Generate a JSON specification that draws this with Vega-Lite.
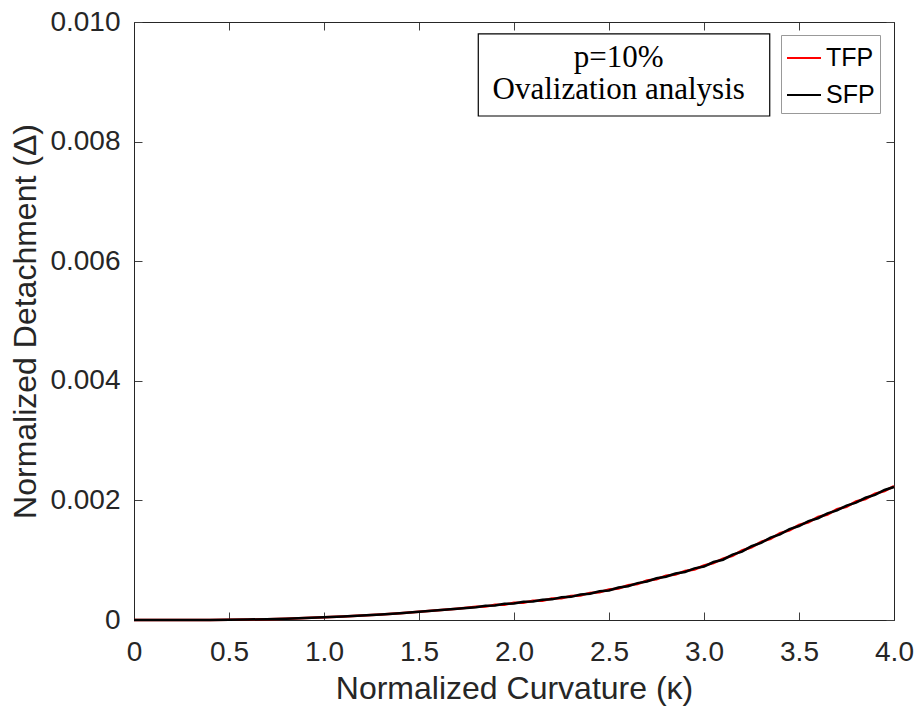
{
  "$schema": "https://vega.github.io/schema/vega-lite/v6.json",
  "width": 760,
  "height": 598,
  "autosize": "none",
  "padding": {"left": 134, "top": 22, "right": 24, "bottom": 90},
  "background": "white",
  "config": {
    "view": {"stroke": null},
    "axis": {
      "domainColor": "#262626",
      "domainWidth": 1,
      "tickColor": "#404040",
      "tickSize": -8,
      "tickWidth": 1,
      "grid": false,
      "labelFont": "Liberation Sans",
      "labelFontSize": 28,
      "labelColor": "#262626",
      "labelFlush": false,
      "labelOverlap": false,
      "titleFont": "Liberation Sans",
      "titleFontSize": 32,
      "titleFontWeight": "normal",
      "titleColor": "#262626"
    }
  },
  "data": {
    "values": [
      {"x": 0.0, "tfp": 0, "sfp": 0},
      {"x": 0.1, "tfp": 0, "sfp": 0},
      {"x": 0.2, "tfp": 0, "sfp": 0},
      {"x": 0.3, "tfp": 0.000001, "sfp": 0.000001},
      {"x": 0.4, "tfp": 0.000002, "sfp": 0.000002},
      {"x": 0.5, "tfp": 0.000004, "sfp": 0.000004},
      {"x": 0.6, "tfp": 0.000008, "sfp": 0.000008},
      {"x": 0.7, "tfp": 0.000014, "sfp": 0.000014},
      {"x": 0.8, "tfp": 0.000022, "sfp": 0.000022},
      {"x": 0.9, "tfp": 0.000033, "sfp": 0.000033},
      {"x": 1.0, "tfp": 0.000046, "sfp": 0.000046},
      {"x": 1.1, "tfp": 0.00006, "sfp": 0.00006},
      {"x": 1.2, "tfp": 0.000076, "sfp": 0.000076},
      {"x": 1.3, "tfp": 0.000094, "sfp": 0.000094},
      {"x": 1.4, "tfp": 0.000114, "sfp": 0.000114},
      {"x": 1.5, "tfp": 0.000138, "sfp": 0.000138},
      {"x": 1.6, "tfp": 0.000164, "sfp": 0.000164},
      {"x": 1.7, "tfp": 0.00019, "sfp": 0.00019},
      {"x": 1.80, "tfp": 0.00022, "sfp": 0.000212},
      {"x": 1.85, "tfp": 0.000224, "sfp": 0.000238},
      {"x": 1.90, "tfp": 0.000255, "sfp": 0.000241},
      {"x": 1.95, "tfp": 0.000256, "sfp": 0.00027},
      {"x": 2.00, "tfp": 0.000289, "sfp": 0.000275},
      {"x": 2.05, "tfp": 0.00029, "sfp": 0.000305},
      {"x": 2.10, "tfp": 0.000324, "sfp": 0.000309},
      {"x": 2.15, "tfp": 0.000324, "sfp": 0.00034},
      {"x": 2.20, "tfp": 0.00036, "sfp": 0.000345},
      {"x": 2.25, "tfp": 0.000364, "sfp": 0.000379},
      {"x": 2.30, "tfp": 0.000402, "sfp": 0.000387},
      {"x": 2.35, "tfp": 0.00041, "sfp": 0.000425},
      {"x": 2.40, "tfp": 0.000453, "sfp": 0.000438},
      {"x": 2.45, "tfp": 0.000463, "sfp": 0.000479},
      {"x": 2.50, "tfp": 0.00051, "sfp": 0.000494},
      {"x": 2.55, "tfp": 0.000527, "sfp": 0.000542},
      {"x": 2.60, "tfp": 0.00058, "sfp": 0.000564},
      {"x": 2.65, "tfp": 0.000601, "sfp": 0.000617},
      {"x": 2.70, "tfp": 0.000661, "sfp": 0.000643},
      {"x": 2.75, "tfp": 0.000681, "sfp": 0.000698},
      {"x": 2.80, "tfp": 0.000741, "sfp": 0.000724},
      {"x": 2.85, "tfp": 0.00076, "sfp": 0.000778},
      {"x": 2.90, "tfp": 0.000821, "sfp": 0.000803},
      {"x": 2.95, "tfp": 0.000845, "sfp": 0.000863},
      {"x": 3.00, "tfp": 0.000911, "sfp": 0.000893},
      {"x": 3.05, "tfp": 0.000952, "sfp": 0.000969},
      {"x": 3.10, "tfp": 0.001026, "sfp": 0.001008},
      {"x": 3.15, "tfp": 0.001074, "sfp": 0.001093},
      {"x": 3.20, "tfp": 0.001162, "sfp": 0.001143},
      {"x": 3.25, "tfp": 0.001216, "sfp": 0.001234},
      {"x": 3.30, "tfp": 0.001307, "sfp": 0.001289},
      {"x": 3.35, "tfp": 0.001359, "sfp": 0.001378},
      {"x": 3.40, "tfp": 0.001452, "sfp": 0.001432},
      {"x": 3.45, "tfp": 0.001499, "sfp": 0.001519},
      {"x": 3.50, "tfp": 0.001592, "sfp": 0.001572},
      {"x": 3.55, "tfp": 0.001634, "sfp": 0.001654},
      {"x": 3.60, "tfp": 0.001722, "sfp": 0.001702},
      {"x": 3.65, "tfp": 0.001764, "sfp": 0.001784},
      {"x": 3.70, "tfp": 0.001852, "sfp": 0.001832},
      {"x": 3.75, "tfp": 0.001894, "sfp": 0.001914},
      {"x": 3.80, "tfp": 0.001982, "sfp": 0.001962},
      {"x": 3.85, "tfp": 0.002024, "sfp": 0.002044},
      {"x": 3.90, "tfp": 0.002112, "sfp": 0.002092},
      {"x": 3.95, "tfp": 0.002154, "sfp": 0.002174},
      {"x": 4.00, "tfp": 0.002238, "sfp": 0.002224}
    ]
  },
  "layer": [
    {
      "data": {"values": [{}]},
      "mark": {"type": "rect", "fill": "white", "stroke": "#000000", "strokeWidth": 1.2},
      "encoding": {
        "x": {"datum": 1.812, "type": "quantitative", "scale": {"domain": [0, 4], "nice": false},
              "axis": {"orient": "top", "labels": false, "title": null, "values": [0, 0.5, 1, 1.5, 2, 2.5, 3, 3.5, 4]}},
        "x2": {"datum": 3.346},
        "y": {"datum": 0.0098, "type": "quantitative", "scale": {"domain": [0, 0.01], "nice": false},
              "axis": {"orient": "right", "labels": false, "title": null, "values": [0, 0.002, 0.004, 0.006, 0.008, 0.01]}},
        "y2": {"datum": 0.008428}
      }
    },
    {
      "data": {"values": [{}]},
      "mark": {"type": "text", "text": ["p=10%", "Ovalization analysis"], "font": "Liberation Serif", "fontSize": 31, "align": "center", "baseline": "alphabetic", "lineHeight": 32, "color": "#000000"},
      "encoding": {
        "x": {"datum": 2.551, "type": "quantitative", "axis": null},
        "y": {"datum": 0.009245, "type": "quantitative", "axis": null}
      }
    },
    {
      "mark": {"type": "line", "strokeWidth": 2.5},
      "encoding": {
        "x": {"field": "x", "type": "quantitative", "scale": {"domain": [0, 4], "nice": false},
              "axis": {"orient": "bottom", "values": [0, 0.5, 1, 1.5, 2, 2.5, 3, 3.5, 4],
                       "labelExpr": "datum.value == 0 ? '0' : format(datum.value, '.1f')",
                       "labelPadding": 26, "title": "Normalized Curvature (κ)", "titlePadding": 7}},
        "y": {"field": "tfp", "type": "quantitative", "scale": {"domain": [0, 0.01], "nice": false},
              "axis": {"orient": "left", "values": [0, 0.002, 0.004, 0.006, 0.008, 0.01],
                       "labelExpr": "datum.value == 0 ? '0' : format(datum.value, '.3f')",
                       "labelPadding": 22, "title": "Normalized Detachment (Δ)", "titlePadding": 7}},
        "color": {
          "datum": "TFP",
          "scale": {"domain": ["TFP", "SFP"], "range": ["#ff0000", "#000000"]},
          "legend": {
            "title": null,
            "orient": "none",
            "legendX": 647,
            "legendY": 13,
            "strokeColor": "#999999",
            "fillColor": "white",
            "padding": 5,
            "symbolType": "stroke",
            "symbolSize": 1156,
            "symbolStrokeWidth": 2,
            "labelFont": "Liberation Sans",
            "labelFontSize": 25,
            "labelColor": "#000000",
            "labelOffset": 4,
            "rowPadding": 6
          }
        }
      }
    },
    {
      "mark": {"type": "line", "strokeWidth": 2.5},
      "encoding": {
        "x": {"field": "x", "type": "quantitative", "axis": null},
        "y": {"field": "sfp", "type": "quantitative", "axis": null},
        "color": {"datum": "SFP"}
      }
    }
  ],
  "resolve": {"axis": {"x": "independent", "y": "independent"}}
}
